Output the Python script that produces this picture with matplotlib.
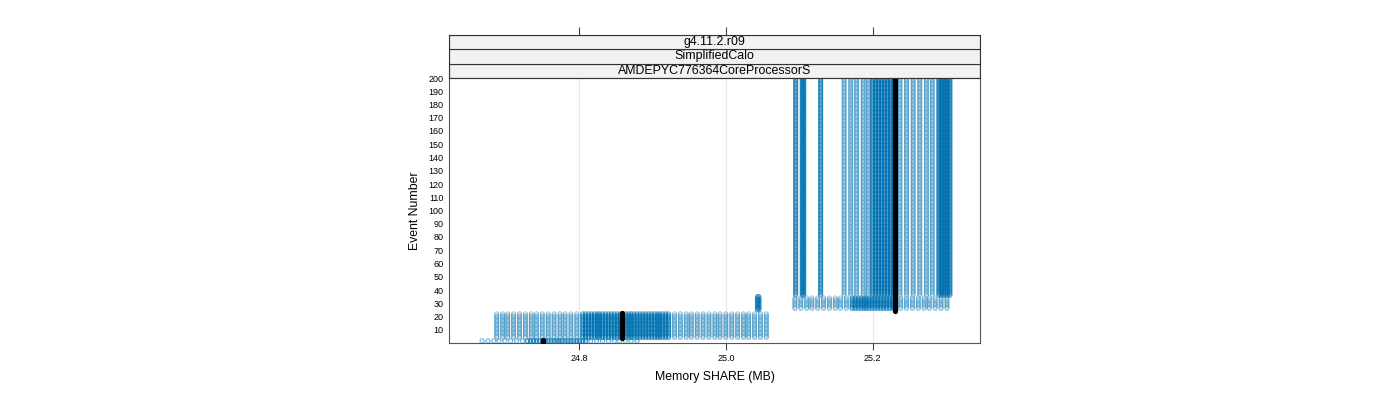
import numpy as np
import matplotlib.pyplot as plt
from matplotlib.patches import Rectangle

plt.rcParams['font.family'] = ['Liberation Sans', 'DejaVu Sans']

blue = '#0072B2'

# strip labels, top to bottom
strips = ['g4.11.2.r09', 'SimplifiedCalo', 'AMDEPYC776364CoreProcessorS']

# event ranges (first, last) and the memory SHARE values (MB) seen there
# "sparse" values come from a single run, "dense" ones from many runs
ev_a = (1, 2)
sparse_a = [24.668, 24.676, 24.684, 24.691, 24.699, 24.707, 24.715, 24.723,
            24.816, 24.824, 24.832, 24.840, 24.848, 24.855, 24.863, 24.871, 24.879]
dense_a = [24.730, 24.734, 24.738, 24.742, 24.746, 24.750, 24.754, 24.758,
           24.762, 24.766, 24.770, 24.773, 24.777, 24.781, 24.785, 24.789,
           24.793, 24.797, 24.801, 24.805, 24.809]

ev_b = (4, 22)
sparse_b = [24.688, 24.696, 24.703, 24.711, 24.719, 24.727, 24.735, 24.742,
            24.750, 24.758, 24.766, 24.774, 24.781, 24.789, 24.797,
            24.930, 24.938, 24.946, 24.953, 24.961, 24.969, 24.977, 24.985,
            24.992, 25.000, 25.008, 25.016, 25.024, 25.031, 25.039, 25.047, 25.055]
dense_b = [24.805, 24.809, 24.813, 24.817, 24.821, 24.825, 24.828, 24.832,
           24.836, 24.840, 24.844, 24.848, 24.852, 24.856, 24.860, 24.864,
           24.868, 24.871, 24.875, 24.879, 24.883, 24.887, 24.891, 24.895,
           24.899, 24.903, 24.907, 24.910, 24.914, 24.918, 24.922]

ev_c = (25, 35)
sparse_c = []
dense_c = [25.043, 25.045]

ev_d = (26, 34)
sparse_d = [25.094, 25.102, 25.110, 25.117, 25.125, 25.133, 25.141, 25.149,
            25.156, 25.164,
            25.238, 25.246, 25.254, 25.262, 25.270, 25.277, 25.285, 25.293, 25.301]
dense_d = [25.172, 25.176, 25.180, 25.184, 25.188, 25.191, 25.195, 25.199,
           25.203, 25.207, 25.211, 25.215, 25.219, 25.223, 25.227, 25.230]

ev_e = (36, 200)
sparse_e = [25.161, 25.170, 25.178, 25.187, 25.194,
            25.237, 25.246, 25.255, 25.264, 25.273, 25.281]
dense_e = [25.095, 25.104, 25.106, 25.129,
           25.200, 25.204, 25.208, 25.212, 25.216, 25.220, 25.224, 25.228,
           25.290, 25.293, 25.296, 25.299, 25.302, 25.305]

# black series
black_mem = [24.751, 24.859, 25.230]
black_ev = [(1, 2), (4, 23), (24, 200)]


def expand(mem, ev):
    events = np.arange(ev[0], ev[1] + 1)
    x = np.repeat(mem, len(events))
    y = np.tile(events, len(mem))
    return x, y


fig = plt.figure(figsize=(14, 4), dpi=100)
ax = fig.add_axes([449 / 1400, 57 / 400, 531 / 1400, 265 / 400])

blocks = [(sparse_a, dense_a, ev_a), (sparse_b, dense_b, ev_b), (sparse_c, dense_c, ev_c),
          (sparse_d, dense_d, ev_d), (sparse_e, dense_e, ev_e)]
for sparse, dense, ev in blocks:
    if sparse:
        x, y = expand(sparse, ev)
        ax.scatter(x, y, s=9, facecolors='none', edgecolors=blue, linewidths=0.6,
                   alpha=0.42, zorder=3)
    x, y = expand(dense, ev)
    ax.scatter(x, y, s=9, facecolors='none', edgecolors=blue, linewidths=0.7,
               alpha=0.6, zorder=3)

for m, ev in zip(black_mem, black_ev):
    x, y = expand([m], ev)
    ax.scatter(x, y, s=14, color='black', linewidths=0, zorder=4)

ax.set_xlim(24.623, 25.346)
ax.set_ylim(0, 200)
ax.set_xticks([24.8, 25.0, 25.2])
ax.set_xticklabels(['24.8', '25.0', '25.2'])
ax.set_yticks(np.arange(10, 201, 10))
ax.tick_params(axis='x', length=5, width=0.8, labelsize=6.5, pad=3, color='#444444')
ax.tick_params(axis='y', length=0, labelsize=6.5, pad=4)
for s in ax.spines.values():
    s.set_color('#555555')
    s.set_linewidth(0.8)
for xv in [24.8, 25.0, 25.2]:
    ax.axvline(xv, color='#e8e8e8', lw=0.8, zorder=0)

ax.set_xlabel('Memory SHARE (MB)', fontsize=8.8, labelpad=6)
ax.set_ylabel('Event Number', fontsize=8.8, labelpad=5)

# strips above the panel
sx = fig.add_axes([449 / 1400, 322 / 400, 531 / 1400, 43 / 400])
sx.set_xlim(ax.get_xlim())
sx.set_ylim(0, 3)
for i, name in enumerate(reversed(strips)):
    sx.add_patch(Rectangle((24.623, i), 25.346 - 24.623, 1, facecolor='#f2f2f2',
                           edgecolor='#333333', lw=0.8))
    sx.text(0.5, (i + 0.5) / 3, name, transform=sx.transAxes, ha='center',
            va='center', fontsize=8.9)
sx.xaxis.tick_top()
sx.set_xticks([24.8, 25.0, 25.2])
sx.set_xticklabels([])
sx.set_yticks([])
sx.tick_params(axis='x', length=6, width=0.8, color='#444444')
for s in sx.spines.values():
    s.set_color('#333333')
    s.set_linewidth(0.8)

fig.savefig('out.png', dpi=100)
